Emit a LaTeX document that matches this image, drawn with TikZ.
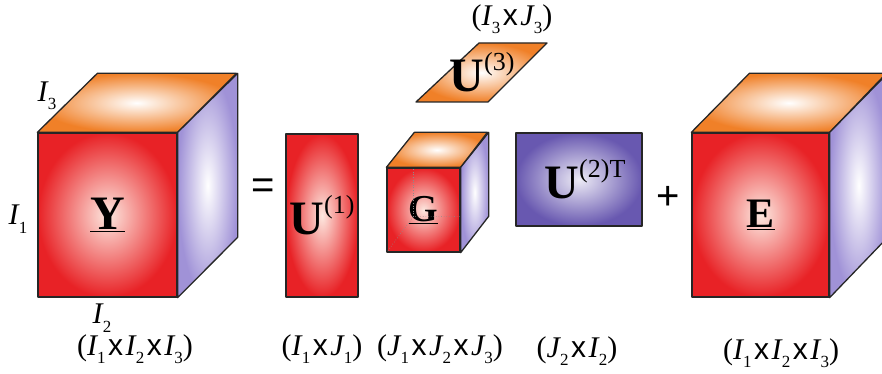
\documentclass[tikz,border=0pt]{standalone}
\usepackage{fontspec}
\setmainfont{Liberation Serif}
\newfontfamily\crossfont{Liberation Sans}
\usetikzlibrary{calc,positioning}

\definecolor{facered}{RGB}{232,34,38}
\definecolor{redcore}{RGB}{253,232,224}
\definecolor{faceorange}{RGB}{240,128,40}
\definecolor{facepurple}{RGB}{160,146,215}
\definecolor{matpurple}{RGB}{104,88,176}

% index letter with a lowered subscript, and the sans "x"
\newcommand{\idx}[2]{\textit{#1}\kern-1pt\raisebox{-0.28em}{\fontsize{17}{17}\selectfont #2}}
\newcommand{\crs}{\kern2.5pt{\crossfont x}\kern2.5pt}
\newcommand{\upidx}[1]{\raisebox{0.95ex}{\fontsize{26}{26}\selectfont\mdseries #1}}

\begin{document}
\begin{tikzpicture}[x=1pt,y=-1pt,line join=round,
  edge/.style={draw=black!85,line width=1.3pt},
  redface/.style={edge,inner color=redcore,outer color=facered,inner sep=0pt},
  topface/.style={edge,inner color=white,outer color=faceorange},
  sideface/.style={edge,inner color=white,outer color=facepurple},
  matface/.style={edge,inner color=white!88!matpurple,outer color=matpurple,inner sep=0pt},
  bigsym/.style={font=\fontsize{48}{48}\selectfont\bfseries},
  dimlabel/.style={font=\fontsize{30}{30}\selectfont,inner sep=0pt},
  opsym/.style={font=\crossfont\fontsize{40}{40}\selectfont,inner sep=0pt},
  hidden/.style={draw=black!45,dotted,line width=0.6pt}]
  \clip (0,0) rectangle (882,374);
  % --- tensor Y ---
  \node[redface,minimum width=139pt,minimum height=164pt,bigsym] (Y) at (107.5,215) {\underline{Y}};
  \path[topface] (Y.north west) -- ++(60,-59) -- ++(139,0) -- (Y.north east) -- cycle;
  \path[sideface] (Y.north east) -- ++(60,-59) -- ++(0,164) -- (Y.south east) -- cycle;
  \node[dimlabel] (lyI3) at (47,96) {\idx{I}{3}};
  \node[dimlabel] (lyI1) at (18,219) {\idx{I}{1}};
  \node[dimlabel] (lyI2) at (102,318) {\idx{I}{2}};
  \node[dimlabel] (lydim) at (135,349) {(\idx{I}{1}\crs\idx{I}{2}\crs\idx{I}{3})};
  % --- equals ---
  \node[opsym] (eq) at (263,189) {=};
  % --- factor U1 ---
  \node[redface,minimum width=72pt,minimum height=163pt,bigsym] (U1) at (322,215.5) {U\upidx{(1)}};
  \node[dimlabel] (lu1) at (322,349) {(\idx{I}{1}\crs\idx{J}{1})};
  % --- core G ---
  \node[redface,minimum width=73pt,minimum height=84pt,font=\fontsize{38}{38}\selectfont\bfseries] (G) at (423.5,210) {\underline{G}};
  \path[topface] (G.north west) -- ++(28,-35) -- ++(73,0) -- (G.north east) -- cycle;
  \path[sideface] (G.north east) -- ++(28,-35) -- ++(0,84) -- (G.south east) -- cycle;
  \coordinate (gback) at ($(G.south west)+(27,-36)$);
  \draw[hidden] (G.south west) -- (gback) -- (gback -| G.east);
  \draw[hidden] (gback) -- (gback |- G.north);
  \node[dimlabel] (lg) at (440,349) {(\idx{J}{1}\crs\idx{J}{2}\crs\idx{J}{3})};
  % --- factor U3 ---
  \path[topface] (416,102) coordinate (u3a) -- (479,43) coordinate (u3b)
    -- (547,43) coordinate (u3c) -- (488,102) coordinate (u3d) -- cycle;
  \node[bigsym,inner sep=0pt] (U3) at (482,72) {U\upidx{(3)}};
  \node[dimlabel] (lu3) at (512,19) {(\idx{I}{3}\crs\idx{J}{3})};
  % --- factor U2T ---
  \node[matface,minimum width=126pt,minimum height=93pt,bigsym] (U2) at (579,179.5) {\kern12pt U\upidx{(2)T}};
  \node[dimlabel] (lu2) at (577,351) {(\idx{J}{2}\crs\idx{I}{2})};
  % --- plus ---
  \node[opsym] (plus) at (668,198) {+};
  % --- error E ---
  \node[redface,minimum width=137pt,minimum height=164pt,font=\fontsize{42}{42}\selectfont\bfseries] (E) at (760.5,215) {\underline{E}};
  \path[topface] (E.north west) -- ++(58,-59) -- ++(137,0) -- (E.north east) -- cycle;
  \path[sideface] (E.north east) -- ++(58,-59) -- ++(0,164) -- (E.south east) -- cycle;
  \node[dimlabel] (le) at (781,353) {(\idx{I}{1}\crs\idx{I}{2}\crs\idx{I}{3})};
\end{tikzpicture}
\end{document}
